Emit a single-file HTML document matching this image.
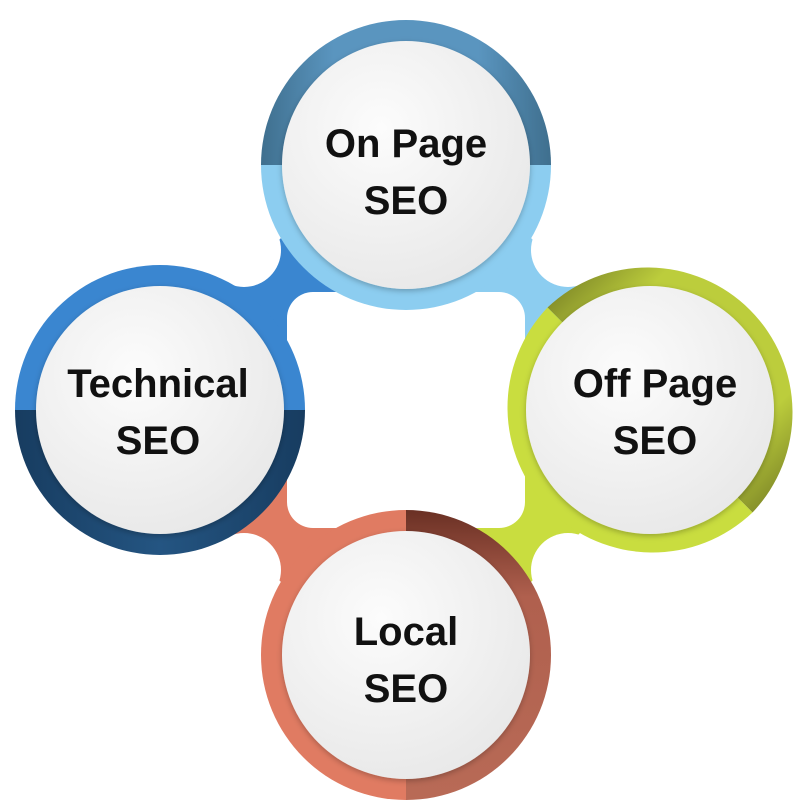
<!DOCTYPE html>
<html><head><meta charset="utf-8"><style>
html,body{margin:0;padding:0;background:#fff;width:810px;height:810px;overflow:hidden}
text{font-family:"Liberation Sans",sans-serif;font-weight:bold;font-size:40px;fill:#111;text-anchor:middle}
</style></head><body>
<svg width="810" height="810" viewBox="0 0 810 810" xmlns="http://www.w3.org/2000/svg">
<defs>
<radialGradient id="w" cx="0.4" cy="0.35" r="0.7"><stop offset="0" stop-color="#fcfcfc"/><stop offset="1" stop-color="#e8e8e8"/></radialGradient>
<linearGradient id="topU" x1="0" x2="1" y1="0" y2="0"><stop offset="0" stop-color="#3f6f8e"/><stop offset="0.25" stop-color="#5a95bf"/><stop offset="0.75" stop-color="#5a95bf"/><stop offset="1" stop-color="#3f6f8e"/></linearGradient>
<linearGradient id="leftD" x1="0" x2="1" y1="0" y2="0"><stop offset="0" stop-color="#173c60"/><stop offset="0.5" stop-color="#245582"/><stop offset="1" stop-color="#173c60"/></linearGradient>
<linearGradient id="botR" x1="0" x2="0" y1="0" y2="1"><stop offset="0" stop-color="#6a3024"/><stop offset="0.3" stop-color="#b0604e"/><stop offset="1" stop-color="#b86a56"/></linearGradient>
<linearGradient id="rightD" x1="0" x2="1" y1="0" y2="1"><stop offset="0" stop-color="#6e7522"/><stop offset="0.25" stop-color="#bccd3c"/><stop offset="0.75" stop-color="#bccd3c"/><stop offset="1" stop-color="#6e7522"/></linearGradient>
<filter id="sh" x="-20%" y="-20%" width="140%" height="140%"><feDropShadow dx="0" dy="2" stdDeviation="3" flood-color="#000" flood-opacity="0.25"/></filter>
</defs>
<rect x="160" y="165" width="246" height="245" fill="#3a86d0"/>
<rect x="406" y="165" width="244" height="245" fill="#8ccdf0"/>
<rect x="406" y="410" width="244" height="245" fill="#c9dd3f"/>
<rect x="160" y="410" width="246" height="245" fill="#e07b62"/>
<rect x="287" y="292" width="238" height="236" rx="26" fill="#fff"/>
<circle cx="244" cy="250" r="37" fill="#fff"/>
<circle cx="568" cy="250" r="37" fill="#fff"/>
<circle cx="568" cy="570" r="37" fill="#fff"/>
<circle cx="244" cy="570" r="37" fill="#fff"/>
<polygon points="150,155 150,369 364,155" fill="#fff"/>
<polygon points="660,155 448,155 660,367" fill="#fff"/>
<polygon points="660,665 660,453 448,665" fill="#fff"/>
<polygon points="150,665 150,451 364,665" fill="#fff"/>
<path d="M261,165 A145,145 0 0 1 551,165 Z" fill="url(#topU)"/>
<path d="M261,165 A145,145 0 0 0 551,165 Z" fill="#8ccdf0"/>
<circle cx="406" cy="165" r="124" fill="url(#w)" filter="url(#sh)"/>
<text x="406" y="157">On Page</text><text x="406" y="214">SEO</text>
<path d="M15,410 A145,145 0 0 1 305,410 Z" fill="#3a86d0"/>
<path d="M15,410 A145,145 0 0 0 305,410 Z" fill="url(#leftD)"/>
<circle cx="160" cy="410" r="124" fill="url(#w)" filter="url(#sh)"/>
<text x="158" y="397">Technical</text><text x="158" y="454">SEO</text>
<path d="M547.5,307.5 A145,145 0 0 1 752.5,512.5 Z" fill="url(#rightD)"/>
<path d="M547.5,307.5 A145,145 0 0 0 752.5,512.5 Z" fill="#c9dd3f"/>
<circle cx="650" cy="410" r="124" fill="url(#w)" filter="url(#sh)"/>
<text x="655" y="397">Off Page</text><text x="655" y="454">SEO</text>
<path d="M406,510 A145,145 0 0 0 406,800 Z" fill="#e07b62"/>
<path d="M406,510 A145,145 0 0 1 406,800 Z" fill="url(#botR)"/>
<circle cx="406" cy="655" r="124" fill="url(#w)" filter="url(#sh)"/>
<text x="406" y="645">Local</text><text x="406" y="702">SEO</text>
</svg>
</body></html>
